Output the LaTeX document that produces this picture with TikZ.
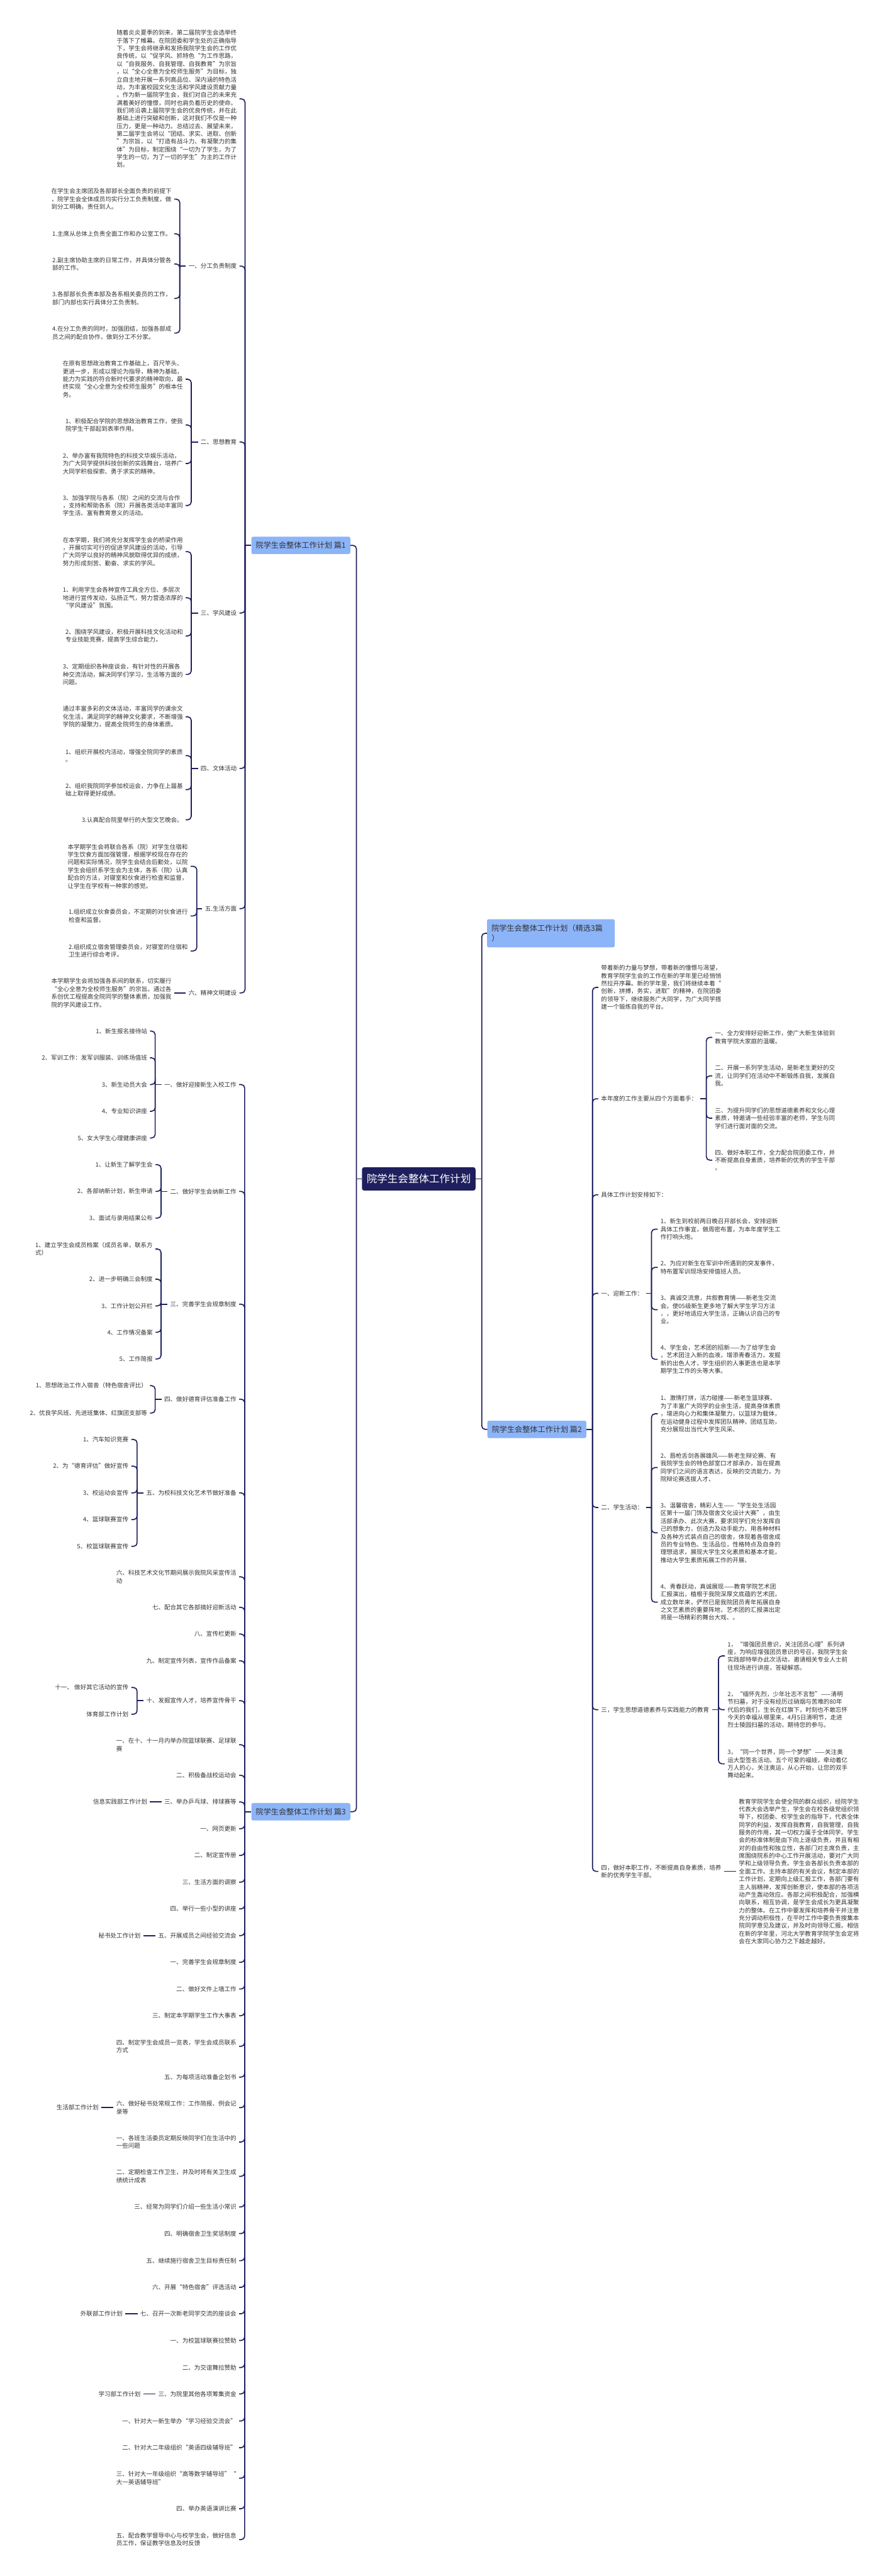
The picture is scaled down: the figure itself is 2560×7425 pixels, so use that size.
\documentclass[tikz,border=0pt]{standalone}
\usepackage{fontspec}
\setmainfont{Noto Sans CJK SC}
\usetikzlibrary{positioning}
\definecolor{mapnavy}{HTML}{1E1F5C}
\definecolor{mapsky}{HTML}{8CB4F8}
\definecolor{mapink}{HTML}{333333}

\begin{document}
\begin{tikzpicture}[x=1pt, y=-1pt,
  txt/.style={inner sep=0pt, outer xsep=8pt, text=mapink, align=left,
    font=\fontsize{17.3}{22.4}\selectfont},
  branch/.style={fill=mapsky, rounded corners=5pt, text=mapink, inner xsep=13pt,
    inner ysep=0pt, minimum height=50pt, font=\fontsize{22}{28}\selectfont},
  rootbox/.style={fill=mapnavy, text=white, rounded corners=6pt, inner sep=0pt,
    minimum width=327pt, minimum height=67pt, font=\fontsize{30}{36}\selectfont},
  link/.style={draw=mapnavy, line width=3pt, rounded corners=10pt}]
  \fill[white] (0,0) rectangle (2560,7425);
  \useasboundingbox (0,0) rectangle (2560,7425);

  % root and the four branches
  \node[rootbox] (root) at (1206.5,3398) {院学生会整体工作计划};
  \node[branch, anchor=west] (p1) at (724,1572) {院学生会整体工作计划 篇1};
  \node[branch, anchor=west, text width=342pt, align=left, minimum height=81pt]
    (px) at (1403,2690) {院学生会整体工作计划（精选3篇\\）};
  \node[branch, anchor=west] (p2) at (1404,4120) {院学生会整体工作计划 篇2};
  \node[branch, anchor=west] (p3) at (724,5222) {院学生会整体工作计划 篇3};
  \coordinate (root-l) at (1027,3398);
  \coordinate (root-r) at (1388,3398);
  \draw[link] (root.west) -- (root-l);
  \draw[link] (root.east) -- (root-r);
  \draw[link] (root-l) |- (p1.east);
  \draw[link] (root-l) |- (p3.east);
  \draw[link] (root-r) |- (px.west);
  \draw[link] (root-r) |- (p2.west);

  % ---- 篇1
  \coordinate (p1-t) at (706,1572);
  \draw[link] (p1.west) -- (p1-t);
  \node[txt, anchor=east] (a0) at (690,285) {随着炎炎夏季的到来，第二届院学生会选举终\\于落下了帷幕。在院团委和学生处的正确指导\\下，学生会将继承和发扬我院学生会的工作优\\良传统，以“促学风、抓特色“为工作思路，\\以“自我服务、自我管理、自我教育”为宗旨\\，以“全心全意为全校师生服务”为目标，独\\立自主地开展一系列高品位、深内涵的特色活\\动，为丰富校园文化生活和学风建设贡献力量\\。作为新一届院学生会，我们对自己的未来充\\满着美好的憧憬，同时也肩负着历史的使命。\\我们将沿袭上届院学生会的优良传统，并在此\\基础上进行突破和创新，这对我们不仅是一种\\压力，更是一种动力。总结过去、展望未来，\\第二届学生会将以“团结、求实、进取、创新\\”为宗旨，以“打造有战斗力、有凝聚力的集\\体”为目标，制定围绕“一切为了学生，为了\\学生的一切，为了一切的学生”为主的工作计\\划。};
  \node[txt, anchor=east] (a1) at (690,767) {一、分工负责制度};
  \node[txt, anchor=east] (a2) at (690,1274) {二、思想教育};
  \node[txt, anchor=east] (a3) at (690,1767) {三、学风建设};
  \node[txt, anchor=east] (a4) at (690,2215) {四、文体活动};
  \node[txt, anchor=east] (a5) at (690,2619) {五.生活方面};
  \node[txt, anchor=east] (a6) at (690,2862) {六、精神文明建设};
  \foreach \n in {a0,a1,a2,a3,a4,a5,a6}
    \draw[link] (p1-t) |- (\n.east);

  \coordinate (a1-t) at (518,767);
  \draw[link] (a1.west) -- (a1-t);
  \node[txt, anchor=east] (a1-1) at (502,574) {在学生会主席团及各部部长全面负责的前提下\\，院学生会全体成员均实行分工负责制度，做\\到分工明确，责任到人。};
  \node[txt, anchor=east] (a1-2) at (502,674) {1.主席从总体上负责全面工作和办公室工作。};
  \node[txt, anchor=east] (a1-3) at (502,761) {2.副主席协助主席的日常工作，并具体分管各\\部的工作。};
  \node[txt, anchor=east] (a1-4) at (502,860) {3.各部部长负责本部及各系相关委员的工作，\\部门内部也实行具体分工负责制。};
  \node[txt, anchor=east] (a1-5) at (502,960) {4.在分工负责的同时，加强团结，加强各部成\\员之间的配合协作，做到分工不分家。};
  \foreach \k in {1,...,5}
    \draw[link] (a1-t) |- (a1-\k.east);

  \coordinate (a2-t) at (551,1274);
  \draw[link] (a2.west) -- (a2-t);
  \node[txt, anchor=east] (a2-1) at (535,1093) {在原有思想政治教育工作基础上，百尺竿头、\\更进一步，形成以理论为指导，精神为基础，\\能力为实践的符合新时代要求的精神取向，最\\终实现“全心全意为全校师生服务”的根本任\\务。};
  \node[txt, anchor=east] (a2-2) at (535,1225) {1、积极配合学院的思想政治教育工作，使我\\院学生干部起到表率作用。};
  \node[txt, anchor=east] (a2-3) at (535,1336) {2、举办富有我院特色的科技文华娱乐活动，\\为广大同学提供科技创新的实践舞台，培养广\\大同学积极探索、勇于求实的精神。};
  \node[txt, anchor=east] (a2-4) at (535,1457) {3、加强学院与各系（院）之间的交流与合作\\，支持和帮助各系（院）开展各类活动丰富同\\学生活、富有教育意义的活动。};
  \foreach \k in {1,...,4}
    \draw[link] (a2-t) |- (a2-\k.east);

  \coordinate (a3-t) at (551,1767);
  \draw[link] (a3.west) -- (a3-t);
  \node[txt, anchor=east] (a3-1) at (535,1590) {在本学期，我们将充分发挥学生会的桥梁作用\\，开展切实可行的促进学风建设的活动，引导\\广大同学以良好的精神风貌取得优异的成绩，\\努力形成刻苦、勤奋、求实的学风。};
  \node[txt, anchor=east] (a3-2) at (535,1723) {1、利用学生会各种宣传工具全方位、多层次\\地进行宣传发动，弘扬正气，努力营造浓厚的\\“学风建设”氛围。};
  \node[txt, anchor=east] (a3-3) at (535,1833) {2、围绕学风建设，积极开展科技文化活动和\\专业技能竞赛，提高学生综合能力。};
  \node[txt, anchor=east] (a3-4) at (535,1944) {3、定期组织各种座谈会，有针对性的开展各\\种交流活动，解决同学们学习，生活等方面的\\问题。};
  \foreach \k in {1,...,4}
    \draw[link] (a3-t) |- (a3-\k.east);

  \coordinate (a4-t) at (551,2215);
  \draw[link] (a4.west) -- (a4-t);
  \node[txt, anchor=east] (a4-1) at (535,2066) {通过丰富多彩的文体活动，丰富同学的课余文\\化生活，满足同学的精神文化要求，不断增强\\学院的凝聚力，提高全院师生的身体素质。};
  \node[txt, anchor=east] (a4-2) at (535,2178) {1、组织开展校内活动，增强全院同学的素质\\。};
  \node[txt, anchor=east] (a4-3) at (535,2276) {2、组织我院同学参加校运会，力争在上届基\\础上取得更好成绩。};
  \node[txt, anchor=east] (a4-4) at (535,2363) {3.认真配合院里举行的大型文艺晚会。};
  \foreach \k in {1,...,4}
    \draw[link] (a4-t) |- (a4-\k.east);

  \coordinate (a5-t) at (567,2619);
  \draw[link] (a5.west) -- (a5-t);
  \node[txt, anchor=east] (a5-1) at (549,2497) {本学期学生会将联合各系（院）对学生住宿和\\学生饮食方面加强管理，根据学校现在存在的\\问题和实际情况，院学生会结合后勤处，以院\\学生会组织系学生会为主体，各系（院）认真\\配合的方法，对寝室和伙食进行检查和监督，\\让学生在学校有一种家的感觉。};
  \node[txt, anchor=east] (a5-2) at (549,2640) {1.组织成立伙食委员会，不定期的对伙食进行\\检查和监督。};
  \node[txt, anchor=east] (a5-3) at (549,2741) {2.组织成立宿舍管理委员会，对寝室的住宿和\\卫生进行综合考评。};
  \foreach \k in {1,...,3}
    \draw[link] (a5-t) |- (a5-\k.east);

  \node[txt, anchor=east] (a6-1) at (502,2862) {本学期学生会将加强各系间的联系，切实履行\\“全心全意为全校师生服务”的宗旨。通过各\\系创优工程提高全院同学的整体素质，加强我\\院的学风建设工作。};
  \draw[link] (a6.west) -- (a6-1.east);

  % ---- 篇3
  \coordinate (p3-t) at (705,5222);
  \draw[link] (p3.west) -- (p3-t);
  \foreach \y/\t [count=\i] in {
      3126/一、做好迎接新生入校工作, 3434/二、做好学生会纳新工作,
      3759/三、完善学生会规章制度, 4033/四、做好德育评估准备工作,
      4303/五、为校科技文化艺术节做好准备,
      4545/{六、科技艺术文化节期间展示我院风采宣传活\\动},
      4633/七、配合其它各部搞好迎新活动, 4710/八、宣传栏更新,
      4787/九、制定宣传列表，宣传作品备案, 4902/十、发掘宣传人才，培养宣传骨干,
      5029/{一、在十、十一月内举办院篮球联赛、足球联\\赛},
      5117/二、积极备战校运动会, 5194/三、举办乒乓球、排球赛等,
      5271/一、网页更新, 5348/二、制定宣传册, 5425/三、生活方面的调察,
      5502/四、举行一些小型的讲座, 5579/五、开展成员之间经验交流会,
      5656/一、完善学生会规章制度, 5733/二、做好文件上墙工作,
      5810/三、制定本学期学生工作大事表,
      5898/{四、制定学生会成员一览表，学生会成员联系\\方式},
      5987/五、为每项活动准备企划书,
      6075/{六、做好秘书处常规工作：工作简报、例会记\\录等},
      6174/{一、各班生活委员定期反映同学们在生活中的\\一些问题},
      6273/{二、定期检查工作卫生，并及时将有关卫生成\\绩统计成表},
      6361/三、经常为同学们介绍一些生活小常识, 6438/四、明确宿舍卫生奖惩制度,
      6516/五、继续施行宿舍卫生目标责任制, 6593/六、开展“特色宿舍”评选活动,
      6669/七、召开一次新老同学交流的座谈会, 6746/一、为校篮球联赛拉赞助,
      6824/二、为交谊舞拉赞助, 6900/三、为院里其他各项筹集资金,
      6978/一、针对大一新生举办“学习经验交流会”,
      7055/二、针对大二年级组织“英语四级辅导班”,
      7143/{三、针对大一年级组织“高等数学辅导班”“\\大一英语辅导班”},
      7231/四、举办英语演讲比赛,
      7320/{五、配合教学督导中心与校学生会，做好信息\\员工作，保证教学信息及时反馈}} {
    \node[txt, anchor=east] (b\i) at (689,\y) {\t};
    \draw[link] (p3-t) |- (b\i.east);
  }

  \coordinate (b1-t) at (447,3126);
  \draw[link] (b1.west) -- (b1-t);
  \foreach \y/\t [count=\k] in {2972/1、新生报名接待站, 3049/2、军训工作：发军训服装、训练场值班,
      3126/3、新生动员大会, 3203/4、专业知识讲座, 3280/5、女大学生心理健康讲座} {
    \node[txt, anchor=east] (b1-\k) at (432,\y) {\t};
    \draw[link] (b1-t) |- (b1-\k.east);
  }

  \coordinate (b2-t) at (464,3434);
  \draw[link] (b2.west) -- (b2-t);
  \foreach \y/\t [count=\k] in {3357/1、让新生了解学生会, 3434/2、各部纳新计划，新生申请,
      3511/3、面试与录用结果公布} {
    \node[txt, anchor=east] (b2-\k) at (448,\y) {\t};
    \draw[link] (b2-t) |- (b2-\k.east);
  }

  \coordinate (b3-t) at (464,3759);
  \draw[link] (b3.west) -- (b3-t);
  \foreach \y/\t [count=\k] in {3600/{1、建立学生会成员档案（成员名单，联系方\\式）},
      3687/2、进一步明确三会制度, 3764/3、工作计划公开栏, 3840/4、工作情况备案,
      3917/5、工作简报} {
    \node[txt, anchor=east] (b3-\k) at (448,\y) {\t};
    \draw[link] (b3-t) |- (b3-\k.east);
  }

  \coordinate (b4-t) at (447,4033);
  \draw[link] (b4.west) -- (b4-t);
  \foreach \y/\t [count=\k] in {3994/1、思想政治工作入宿舍（特色宿舍评比）,
      4073/2、优良学风班、先进班集体、红旗团支部等} {
    \node[txt, anchor=east] (b4-\k) at (432,\y) {\t};
    \draw[link] (b4-t) |- (b4-\k.east);
  }

  \coordinate (b5-t) at (395,4303);
  \draw[link] (b5.west) -- (b5-t);
  \foreach \y/\t [count=\k] in {4149/1、汽车知识竞赛, 4226/2、为“德育评估”做好宣传,
      4303/3、校运动会宣传, 4380/4、篮球联赛宣传, 4457/5、校篮球联赛宣传} {
    \node[txt, anchor=east] (b5-\k) at (378,\y) {\t};
    \draw[link] (b5-t) |- (b5-\k.east);
  }

  \coordinate (b10-t) at (395,4902);
  \draw[link] (b10.west) -- (b10-t);
  \foreach \y/\t [count=\k] in {4864/十一、 做好其它活动的宣传, 4941/体育部工作计划} {
    \node[txt, anchor=east] (b10-\k) at (378,\y) {\t};
    \draw[link] (b10-t) |- (b10-\k.east);
  }

  \node[txt, anchor=east] (b13-1) at (432,5194) {信息实践部工作计划};
  \draw[link] (b13.west) -- (b13-1.east);
  \node[txt, anchor=east] (b18-1) at (413,5579) {秘书处工作计划};
  \draw[link] (b18.west) -- (b18-1.east);
  \node[txt, anchor=east] (b24-1) at (292,6075) {生活部工作计划};
  \draw[link] (b24.west) -- (b24-1.east);
  \node[txt, anchor=east] (b31-1) at (361,6669) {外联部工作计划};
  \draw[link] (b31.west) -- (b31-1.east);
  \node[txt, anchor=east] (b34-1) at (413,6900) {学习部工作计划};
  \draw[link] (b34.west) -- (b34-1.east);

  % ---- 篇2
  \coordinate (p2-t) at (1707,4120);
  \draw[link] (p2.east) -- (p2-t);
  \node[txt, anchor=west] (c1) at (1724,2846) {带着新的力量与梦想，带着新的憧憬与渴望，\\教育学院学生会的工作在新的学年里已经悄悄\\然拉开序幕。新的学年里，我们将继续本着“\\创新，拼搏，务实，进取”的精神，在院团委\\的领导下，继续服务广大同学，为广大同学搭\\建一个锻炼自我的平台。};
  \node[txt, anchor=west] (c2) at (1724,3167) {本年度的工作主要从四个方面着手：};
  \node[txt, anchor=west] (c3) at (1724,3444) {具体工作计划安排如下：};
  \node[txt, anchor=west] (c4) at (1724,3728) {一、迎新工作：};
  \node[txt, anchor=west] (c5) at (1724,4345) {二、学生活动：};
  \node[txt, anchor=west] (c6) at (1724,4928) {三，学生思想道德素养与实践能力的教育};
  \node[txt, anchor=west] (c7) at (1724,5394) {四，做好本职工作，不断提高自身素质，培养\\新的优秀学生干部。};
  \foreach \n in {c1,c2,c3,c4,c5,c6,c7}
    \draw[link] (p2-t) |- (\n.west);

  \coordinate (c2-t) at (2035,3167);
  \draw[link] (c2.east) -- (c2-t);
  \node[txt, anchor=west] (c2-1) at (2052,2990) {一、全力安排好迎新工作，使广大新生体验到\\教育学院大家庭的温暖。};
  \node[txt, anchor=west] (c2-2) at (2052,3101) {二、开展一系列学生活动，是新老生更好的交\\流，让同学们在活动中不断锻炼自我，发展自\\我。};
  \node[txt, anchor=west] (c2-3) at (2052,3223) {三、为提升同学们的思想道德素养和文化心理\\素质，特邀请一些经验丰富的老师，学生与同\\学们进行面对面的交流。};
  \node[txt, anchor=west] (c2-4) at (2052,3344) {四、做好本职工作，全力配合院团委工作，并\\不断提高自身素质，培养新的优秀的学生干部\\。};
  \foreach \k in {1,...,4}
    \draw[link] (c2-t) |- (c2-\k.west);

  \coordinate (c4-t) at (1877,3728);
  \draw[link] (c4.east) -- (c4-t);
  \node[txt, anchor=west] (c4-1) at (1895,3543) {1、新生到校前两日晚召开部长会，安排迎新\\具体工作事宜，做周密布置，为本年度学生工\\作打响头炮。};
  \node[txt, anchor=west] (c4-2) at (1895,3653) {2、为应对新生在军训中所遇到的突发事件，\\特布置军训现场安排值班人员。};
  \node[txt, anchor=west] (c4-3) at (1895,3775) {3、真诚交流意，共叙教育情——新老生交流\\会。使05级新生更多地了解大学生学习方法\\，，更好地适应大学生活，正确认识自己的专\\业。};
  \node[txt, anchor=west] (c4-4) at (1895,3918) {4、学生会，艺术团的招新——为了给学生会\\，艺术团注入新的血液，增添青春活力，发掘\\新的出色人才，学生组织的人事更迭也是本学\\期学生工作的头等大事。};
  \foreach \k in {1,...,4}
    \draw[link] (c4-t) |- (c4-\k.west);

  \coordinate (c5-t) at (1877,4345);
  \draw[link] (c5.east) -- (c5-t);
  \node[txt, anchor=west] (c5-1) at (1895,4075) {1、激情打拼，活力碰撞——新老生篮球赛、\\为了丰富广大同学的业余生活，提高身体素质\\，增进向心力和集体凝聚力，以篮球为载体，\\在运动健身过程中发挥团队精神，团结互助，\\充分展现出当代大学生风采、};
  \node[txt, anchor=west] (c5-2) at (1895,4230) {2、唇枪舌剑各展雄风——新老生辩论赛、有\\我院学生会的特色部室口才部承办，旨在提高\\同学们之间的语言表达，反映的交流能力，为\\院辩论赛选拔人才、};
  \node[txt, anchor=west] (c5-3) at (1895,4418) {3、温馨宿舍，精彩人生——“学生处生活园\\区第十一届门饰及宿舍文化设计大赛”，由生\\活部承办、此次大赛，要求同学们充分发挥自\\己的想象力，创造力及动手能力、用各种材料\\及各种方式装点自己的宿舍，体现着各宿舍成\\员的专业特色、生活品位，性格特点及自身的\\理想追求，展现大学生文化素质和基本才能，\\推动大学生素质拓展工作的开展、};
  \node[txt, anchor=west] (c5-4) at (1895,4618) {4、青春跃动，真诚展现——教育学院艺术团\\汇报演出，植根于我院深厚文底蕴的艺术团，\\成立数年来，俨然已是我院团员青年拓展自身\\之文艺素质的重要阵地，艺术团的汇报演出定\\将是一场精彩的舞台大戏、。};
  \foreach \k in {1,...,4}
    \draw[link] (c5-t) |- (c5-\k.west);

  \coordinate (c6-t) at (2070,4928);
  \draw[link] (c6.east) -- (c6-t);
  \node[txt, anchor=west] (c6-1) at (2088,4773) {1，“增强团员意识，关注团员心理”系列讲\\座，为响应增强团员意识的号召，我院学生会\\实践部特举办此次活动，邀请相关专业人士前\\往现场进行讲座，答疑解惑。};
  \node[txt, anchor=west] (c6-2) at (2088,4928) {2，“缅怀先烈，少年壮志不言愁”——清明\\节扫墓，对于没有经历过硝烟与苦难的80年\\代后的我们，生长在红旗下，时刻也不敢忘怀\\今天的幸福从哪里来，4月5日清明节，走进\\烈士陵园扫墓的活动，期待您的参与。};
  \node[txt, anchor=west] (c6-3) at (2088,5084) {3，“同一个世界，同一个梦想”——关注奥\\运大型签名活动。五个可爱的福娃，牵动着亿\\万人的心，关注奥运，从心开始，让您的双手\\舞动起来。};
  \foreach \k in {1,...,3}
    \draw[link] (c6-t) |- (c6-\k.west);

  \node[txt, anchor=west] (c7-1) at (2121,5394) {教育学院学生会使全院的群众组织，经院学生\\代表大会选举产生，学生会在校各级党组织领\\导下，校团委、校学生会的指导下，代表全体\\同学的利益，发挥自我教育，自我管理，自我\\服务的作用，其一切权力属于全体同学。学生\\会的标准体制是由下向上逐级负责，并且有相\\对的自由性和独立性，各部门对主席负责，主\\席围绕院系的中心工作开展活动，要对广大同\\学和上级领导负责。学生会各部长负责本部的\\全面工作。主持本部的有关会议，制定本部的\\工作计划，定期向上级汇报工作，各部门要有\\主人翁精神，发挥创新意识，使本部的各项活\\动产生轰动效应。各部之间积极配合，加强横\\向联系，相互协调，是学生会成长为更具凝聚\\力的整体。在工作中要发挥和培养骨干并注意\\充分调动积极性，在平时工作中要负责搜集本\\院同学意见及建议，并及时向领导汇报。相信\\在新的学年里，河北大学教育学院学生会定将\\会在大家同心协力之下越走越好。};
  \draw[link] (c7.east) -- (c7-1.west);
\end{tikzpicture}
\end{document}
